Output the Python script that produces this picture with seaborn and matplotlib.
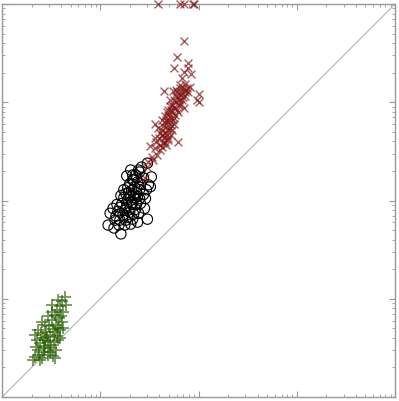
import numpy as np
import pandas as pd
import matplotlib
matplotlib.use("Agg")
import matplotlib.pyplot as plt
import seaborn as sns
from matplotlib.ticker import LogLocator, NullFormatter

# log10 values
red_log_x = [1.85, 1.78, 1.89, 1.75, 1.89, 1.85, 1.92, 1.83, 1.65, 1.74, 2.01, 1.91, 1.98, 2.01,
             1.79, 1.56, 1.56, 1.51, 1.53, 1.49, 1.48, 1.46, 1.64, 1.69, 1.61, 1.58, 1.54, 1.63,
             1.84, 1.86, 1.81, 1.79, 1.83, 1.77, 1.80, 1.75, 1.78, 1.73, 1.76, 1.71, 1.74, 1.69,
             1.72, 1.67, 1.70, 1.66, 1.68, 1.63, 1.65, 1.71, 1.76, 1.82, 1.87, 1.77, 1.73, 1.69,
             1.67, 1.64, 1.61, 1.68, 1.80, 1.86, 1.88, 1.81, 1.72, 1.70, 1.75, 1.66,
             1.86, 1.81, 1.89, 1.77, 1.84, 1.75, 1.82, 1.71, 1.79, 1.69, 1.75, 1.66, 1.73, 1.63,
             1.69, 1.59, 1.66, 1.61, 1.57, 1.71, 1.78, 1.85, 1.64, 1.60, 1.72, 1.67, 1.63, 1.56,
             1.59, 1.81, 1.85, 1.94, 1.95]
red_log_y = [3.62, 3.46, 3.40, 3.35, 3.35, 3.31, 3.29, 3.25, 3.11, 3.11, 3.08, 3.16, 3.02, 3.00,
             2.60, 2.78, 2.64, 2.55, 2.44, 2.39, 2.34, 2.23, 2.59, 2.62, 2.51, 2.46, 2.41, 2.67,
             3.15, 3.10, 3.07, 3.04, 3.02, 3.00, 2.97, 2.95, 2.92, 2.90, 2.87, 2.85, 2.82, 2.80,
             2.77, 2.75, 2.72, 2.70, 2.67, 2.72, 2.64, 2.74, 2.94, 3.10, 3.12, 3.06, 2.97, 2.87,
             2.82, 2.76, 2.69, 2.90, 3.02, 3.06, 3.15, 3.15, 2.92, 2.82, 2.84, 2.80,
             3.19, 3.18, 3.10, 3.12, 3.05, 3.02, 2.98, 2.96, 2.90, 2.92, 2.78, 2.86, 2.72, 2.82,
             2.64, 2.74, 2.60, 2.56, 2.60, 3.02, 3.10, 2.94, 2.67, 2.64, 2.67, 2.56, 2.54, 2.53,
             4.00, 4.00, 4.00, 4.00, 4.00]

black_log_x = [1.48, 1.52, 1.51, 1.08, 1.14, 1.21, 1.10, 1.48, 1.38, 1.42, 1.39,
               1.40, 1.36, 1.44, 1.33, 1.38, 1.30, 1.41, 1.35, 1.28, 1.40, 1.32, 1.37, 1.26, 1.44,
               1.30, 1.35, 1.24, 1.40, 1.28, 1.33, 1.22, 1.37, 1.27, 1.31, 1.20, 1.36, 1.25, 1.30,
               1.18, 1.34, 1.23, 1.28, 1.16, 1.33, 1.39, 1.45, 1.46, 1.26, 1.20, 1.31, 1.34, 1.37,
               1.29, 1.34, 1.38, 1.32, 1.26, 1.41, 1.47, 1.49, 1.24, 1.21, 1.17, 1.13, 1.15, 1.19,
               1.25, 1.31, 1.27, 1.33]
black_log_y = [2.38, 2.24, 2.14, 1.75, 1.72, 1.66, 1.87, 1.81, 1.78, 2.34, 2.31,
               2.29, 2.26, 2.23, 2.21, 2.19, 2.17, 2.17, 2.14, 2.13, 2.11, 2.10, 2.08, 2.07, 2.06,
               2.05, 2.03, 2.03, 2.02, 2.01, 1.98, 1.97, 1.96, 1.95, 1.93, 1.93, 1.91, 1.90, 1.88,
               1.89, 1.86, 1.85, 1.83, 1.84, 1.81, 1.87, 1.92, 2.02, 1.80, 1.80, 1.76, 2.21, 2.23,
               2.08, 2.06, 2.04, 1.96, 1.92, 1.97, 2.11, 2.16, 2.11, 2.05, 1.96, 1.92, 1.80, 1.75,
               1.75, 2.31, 2.25, 2.26]

green_log_x = [0.64, 0.61, 0.59, 0.56, 0.62, 0.54, 0.58, 0.51, 0.61, 0.55, 0.48, 0.52, 0.59,
               0.45, 0.49, 0.56, 0.42, 0.47, 0.53, 0.39, 0.44, 0.50, 0.37, 0.43, 0.47, 0.34,
               0.52, 0.41, 0.57, 0.46, 0.40, 0.36, 0.49, 0.54, 0.44, 0.51, 0.57, 0.43, 0.38, 0.60,
               0.32, 0.39, 0.54, 0.49, 0.35, 0.37, 0.41, 0.47, 0.51, 0.57, 0.65, 0.62, 0.59, 0.55,
               0.44, 0.34]
green_log_y = [1.02, 0.98, 0.93, 0.89, 0.87, 0.83, 0.80, 0.78, 0.76, 0.73, 0.72, 0.69, 0.68,
               0.66, 0.63, 0.62, 0.60, 0.57, 0.56, 0.55, 0.52, 0.50, 0.48, 0.46, 0.43, 0.41,
               0.42, 0.40, 0.58, 0.61, 0.65, 0.58, 0.53, 0.66, 0.73, 0.87, 0.70, 0.50, 0.43, 0.82,
               0.38, 0.38, 0.40, 0.46, 0.51, 0.68, 0.76, 0.82, 0.94, 0.99, 0.94, 0.70, 0.60, 0.48,
               0.58, 0.63]

red = pd.DataFrame({"x": 10 ** np.array(red_log_x), "y": 10 ** np.array(red_log_y)})
black = pd.DataFrame({"x": 10 ** np.array(black_log_x), "y": 10 ** np.array(black_log_y)})
green = pd.DataFrame({"x": 10 ** np.array(green_log_x), "y": 10 ** np.array(green_log_y)})

sns.set_style("white")
fig = plt.figure(figsize=(3.99, 4.01), dpi=100)
ax = fig.add_axes([2 / 399, 4 / 401, 393 / 399, 393 / 401])
ax.set_xscale("log")
ax.set_yscale("log")
lo, hi = 1, 1e4
ax.plot([lo, hi], [lo, hi], color="#b0b0b0", lw=0.8, zorder=1)

sns.scatterplot(data=green, x="x", y="y", ax=ax, marker="+", s=80, color="#275c00",
                alpha=0.65, linewidth=1.3, zorder=3)
sns.scatterplot(data=black, x="x", y="y", ax=ax, marker="o", s=55, facecolor="none",
                edgecolor="black", linewidth=0.8, zorder=3)
sns.scatterplot(data=red, x="x", y="y", ax=ax, marker="x", s=32, color="#7e1515",
                alpha=0.7, linewidth=1.0, zorder=4, clip_on=False)

ax.set_xlim(lo, hi)
ax.set_ylim(lo, hi)
ax.set_xlabel("")
ax.set_ylabel("")
for s in ax.spines.values():
    s.set_color("#999999")
    s.set_linewidth(1.0)
    s.set_visible(True)
for axis in (ax.xaxis, ax.yaxis):
    axis.set_major_locator(LogLocator(base=10, numticks=10))
    axis.set_minor_locator(LogLocator(base=10, subs=np.arange(2, 10), numticks=10))
    axis.set_major_formatter(NullFormatter())
    axis.set_minor_formatter(NullFormatter())
ax.tick_params(which="both", direction="in", color="#999999", top=True, right=True,
               bottom=True, left=True)
ax.tick_params(which="major", length=4, width=0.8)
ax.tick_params(which="minor", length=2, width=0.6)
fig.savefig("out.png", dpi=100)
